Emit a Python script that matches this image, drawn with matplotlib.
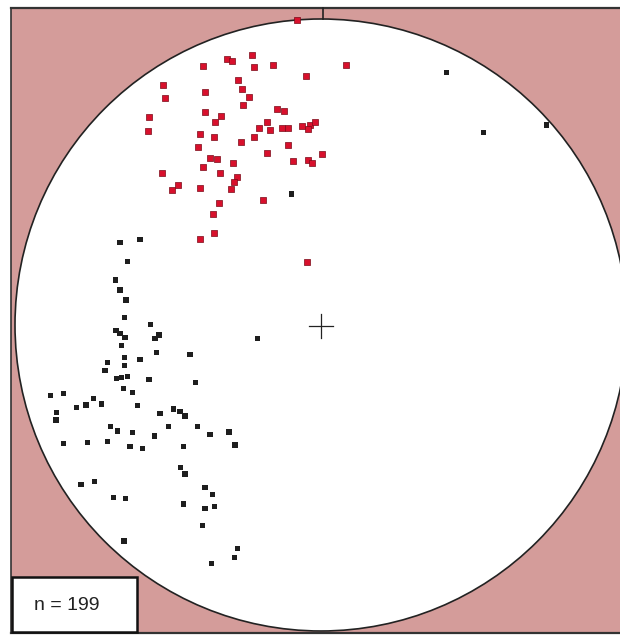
import matplotlib.pyplot as plt
from matplotlib.patches import Circle, Rectangle

# stereonet plot, positions (pixel units of the net)
red_x = [202.7, 226.7, 231.7, 251.7, 254, 272.7, 305.7, 345.7, 163.3, 165,
         205, 238.3, 242.3, 249, 243.3, 149, 148, 205.3, 220.7, 215,
         276.7, 284, 266.7, 258.7, 270, 281.7, 288.3, 301.7, 310, 315,
         308.3, 254, 241, 200, 214.3, 198.3, 287.7, 266.7, 322, 293.3,
         308.3, 311.7, 210, 216.7, 203.3, 233.3, 220, 161.7, 172.3, 178.3,
         200, 237.3, 234, 231, 263.3, 219.3, 212.7, 214, 200, 306.7,
         296.7]
red_y = [66, 59.3, 60.7, 55.3, 66.7, 65, 76, 65.3, 85.3, 98.3,
         91.7, 80, 89, 96.7, 105.3, 117.3, 130.7, 112, 116, 121.7,
         109.3, 111, 121.7, 128.3, 130, 128.3, 127.7, 126, 125, 121.7,
         129.3, 136.7, 141.7, 134.3, 137.3, 146.7, 145, 153.3, 154.3, 160.7,
         160, 162.7, 158.3, 159.3, 166.7, 163.3, 172.7, 173.3, 190, 185,
         187.7, 176.7, 181.7, 189.3, 200, 203.3, 214, 233.3, 239.3, 261.7,
         20]

black_x = [120, 140, 127.3, 115.3, 120, 126, 124.3, 150.7, 116, 120,
           125, 155, 159, 257.7, 121.7, 156.7, 190, 124.3, 124.3, 107.3,
           105, 140, 116.7, 121.7, 127.3, 149, 195.7, 123.3, 132.7, 50.7,
           63.3, 93.3, 86, 76.7, 101.7, 137.7, 56.7, 56, 160, 173.3,
           180, 185, 168.3, 197.7, 210, 229, 235, 110.7, 117.3, 132.7,
           154.3, 63.3, 87.7, 107.7, 130, 142.7, 183.3, 180.7, 185, 81,
           94.3, 113.3, 125.7, 205, 212.7, 183.3, 205, 214.3, 202.7, 124,
           237.3, 234.3, 211.7, 291.3, 446.7, 483.3, 546.7]
black_y = [242.7, 239.3, 261.7, 280, 290, 300, 317.7, 324.3, 330.7, 333.3,
           337.3, 338.3, 335, 338.7, 345.3, 352.7, 354.7, 357.7, 365.7, 362.3,
           370.7, 359.3, 378.3, 377.3, 376.7, 379.3, 382.7, 388.3, 392.7, 395.7,
           393.3, 398.3, 405, 407.7, 404, 405.7, 412.7, 420, 413.3, 409,
           411.7, 416, 426.7, 426.7, 434.3, 432, 445, 426.7, 431, 432.3,
           436, 443.3, 442.3, 441.7, 446.7, 448.7, 446.7, 467.7, 474, 484.3,
           481.7, 497.3, 498.7, 487.7, 494.3, 504, 508.3, 506.7, 525.7, 541,
           548.3, 557.7, 563.3, 194, 72.7, 132.7, 125]

n_label = "n = 199"

cx, cy, R = 321, 325, 306
pink = "#d49c9a"

fig = plt.figure(figsize=(6.2, 6.37), dpi=100)
ax = fig.add_axes([0, 0, 1, 1])
ax.set_xlim(0, 620)
ax.set_ylim(637, 0)
ax.axis("off")

# pink frame area with border
ax.add_patch(Rectangle((11, 8), 620, 625, facecolor=pink, edgecolor="none", zorder=0))
ax.plot([11, 620], [8, 8], color="#333333", lw=1.6, zorder=1)
ax.plot([11, 11], [8, 633], color="#333333", lw=1.2, zorder=1)
ax.plot([11, 620], [633, 633], color="#333333", lw=1.6, zorder=1)

# primitive circle
ax.add_patch(Circle((cx, cy), R, facecolor="white", edgecolor="#222222", lw=1.2, zorder=2))
ax.plot([cx + 2, cx + 2], [8, cy - R], color="#222222", lw=1.2, zorder=3)

# centre cross
ax.plot([cx - 12, cx + 12], [cy + 1, cy + 1], color="#222222", lw=0.9, zorder=3)
ax.plot([cx, cx], [cy - 11, cy + 13], color="#222222", lw=0.9, zorder=3)

ax.scatter(black_x, black_y, marker="s", s=16, color="#1e1e1e", edgecolors="none", zorder=4)
ax.scatter(red_x, red_y, marker="s", s=13, color="#d8102c", edgecolors="#7a0a18",
           linewidths=0.5, zorder=5)

# count box
ax.add_patch(Rectangle((12, 577), 125, 55, facecolor="white", edgecolor="#111111", lw=1.8, zorder=6))
ax.text(67, 606, n_label, fontsize=14, family="Liberation Sans", color="#222222",
        ha="center", va="center", zorder=7)

fig.savefig("out.png", dpi=100)
